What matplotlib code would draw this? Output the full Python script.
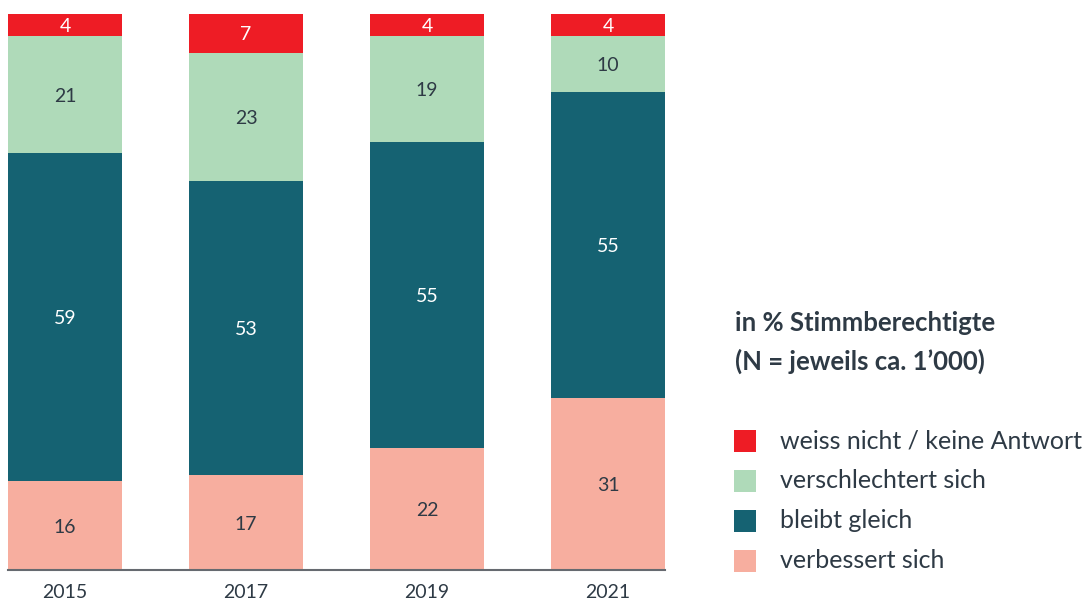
import matplotlib

matplotlib.use("Agg")
import matplotlib.pyplot as plt
import numpy as np
from matplotlib.patches import Rectangle

plt.rcParams["font.family"] = ["Lato", "DejaVu Sans"]

years = ["2015", "2017", "2019", "2021"]
verbessert = [16, 17, 22, 31]
bleibt = [59, 53, 55, 55]
verschlechtert = [21, 23, 19, 10]
weiss_nicht = [4, 7, 4, 4]

series = [
    ("verbessert sich", verbessert, "#F7AE9F", "#2E3A45"),
    ("bleibt gleich", bleibt, "#156272", "#FFFFFF"),
    ("verschlechtert sich", verschlechtert, "#AFDAB9", "#2E3A45"),
    ("weiss nicht / keine Antwort", weiss_nicht, "#EE1C25", "#FFFFFF"),
]

text_color = "#2E3A45"
bar_width = 0.63
W, H = 1085, 599

fig = plt.figure(figsize=(W / 100, H / 100), dpi=100)
ax = fig.add_axes([8 / W, 29 / H, 657 / W, 556 / H])

x = np.arange(len(years))
bottom = np.zeros(len(years))
for label, vals, color, tcolor in series:
    vals = np.array(vals, dtype=float)
    ax.bar(x, vals, bar_width, bottom=bottom, color=color, label=label, linewidth=0)
    for xi, b, v in zip(x, bottom, vals):
        ax.text(xi, b + v / 2, f"{int(v)}", ha="center", va="center_baseline",
                fontsize=14, color=tcolor)
    bottom += vals

ax.set_xlim(-bar_width / 2, len(years) - 1 + bar_width / 2)
ax.set_ylim(0, 100)
ax.set_xticks(x)
ax.set_xticklabels(years, fontsize=14, color=text_color)
ax.tick_params(axis="x", length=0, pad=10)
ax.set_yticks([])
for side in ["top", "right", "left"]:
    ax.spines[side].set_visible(False)
ax.spines["bottom"].set_color("#666A70")
ax.spines["bottom"].set_linewidth(1.5)

# legend title
fig.text(735 / W, 1 - 323 / H, "in % Stimmberechtigte", fontsize=18.5,
         fontweight="bold", color=text_color, va="center", ha="left")
fig.text(735 / W, 1 - 361 / H, "(N = jeweils ca. 1’000)", fontsize=18.5,
         fontweight="bold", color=text_color, va="center", ha="left")

# legend entries, top to bottom
for i, (label, _, color, _) in enumerate(reversed(series)):
    yc = 441 + 40 * i
    fig.patches.append(Rectangle((734 / W, 1 - (yc + 11) / H), 22 / W, 22 / H,
                                 transform=fig.transFigure, facecolor=color,
                                 edgecolor="none"))
    fig.text(780 / W, 1 - yc / H, label, fontsize=18, color=text_color,
             va="center", ha="left")

fig.savefig("out.png", dpi=100)
